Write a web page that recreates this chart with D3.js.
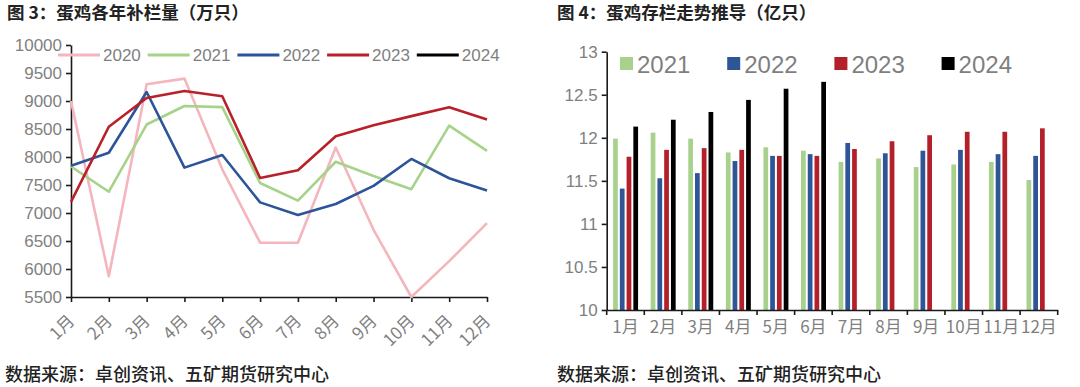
<!DOCTYPE html>
<html><head><meta charset="utf-8">
<script src="https://cdn.jsdelivr.net/npm/d3@7/dist/d3.min.js"></script>
<style>
body{margin:0;background:#fff;}
svg{display:block;}
.cjk{font-family:"Noto Sans CJK SC",sans-serif;}
.num{font-family:"Liberation Sans","DejaVu Sans",sans-serif;}
</style></head>
<body>
<svg id="c" width="1080" height="387"></svg>
<script>
const months = ["1月","2月","3月","4月","5月","6月","7月","8月","9月","10月","11月","12月"];
// Left chart: 补栏量 (万只)
const lineYears = ["2020","2021","2022","2023","2024"];
const s2020 = [9000,5870,9300,9400,7780,6470,6470,8170,6700,5500,6140,6820];
const s2021 = [7830,7380,8580,8910,8890,7535,7220,7915,7660,7425,8560,8110];
const s2022 = [7845,8075,9160,7810,8035,7190,6965,7160,7485,7965,7620,7400];
const s2023 = [7200,8540,9055,9180,9085,7625,7765,8370,8565,8730,8890,8670];
const s2024 = [];
const lineTicks = [5500,6000,6500,7000,7500,8000,8500,9000,9500,10000];
// Right chart: 存栏 (亿只)
const barYears = ["2021","2022","2023","2024"];
const b2021 = [11.99,12.06,11.99,11.83,11.89,11.85,11.72,11.76,11.66,11.69,11.72,11.51];
const b2022 = [11.41,11.53,11.59,11.73,11.79,11.81,11.94,11.82,11.85,11.86,11.81,11.79];
const b2023 = [11.78,11.86,11.88,11.86,11.79,11.79,11.87,11.96,12.03,12.07,12.07,12.11];
const b2024 = [12.13,12.21,12.30,12.44,12.57,12.65];
const barTicks = [10,10.5,11,11.5,12,12.5,13];

const lineColors = {"2020":"#F4B6BC","2021":"#A5D38A","2022":"#2D539A","2023":"#B8202A","2024":"#000000"};
const barColors = {"2021":"#A9D18E","2022":"#2F5597","2023":"#B4202A","2024":"#000000"};
const gray = "#7f7f7f";

const svg = d3.select("#c");

// Titles & footers
svg.append("text").attr("class","cjk").attr("x",7).attr("y",19).attr("font-size",17.5).attr("font-weight","bold").attr("fill","#222").text("图 3：蛋鸡各年补栏量（万只）");
svg.append("text").attr("class","cjk").attr("x",557).attr("y",19).attr("font-size",17.5).attr("font-weight","bold").attr("fill","#222").text("图 4：蛋鸡存栏走势推导（亿只）");
svg.append("text").attr("class","cjk").attr("x",5).attr("y",381).attr("font-size",18).attr("font-weight",500).attr("fill","#222").text("数据来源：卓创资讯、五矿期货研究中心");
svg.append("text").attr("class","cjk").attr("x",557).attr("y",381).attr("font-size",18).attr("font-weight",500).attr("fill","#222").text("数据来源：卓创资讯、五矿期货研究中心");

// ---------- Left chart ----------
const xL = d3.scalePoint().domain(months).range([71,487]);
const yL = d3.scaleLinear().domain([5500,10000]).range([297,45]);

const gL = svg.append("g");
const yAxL = gL.append("g").attr("transform","translate(71,0)")
  .call(d3.axisLeft(yL).tickValues(lineTicks).tickSize(5).tickSizeOuter(0).tickFormat(d3.format("d")));
const xAxL = gL.append("g").attr("transform","translate(0,297)")
  .call(d3.axisBottom(xL).tickSize(5).tickSizeOuter(0));
[yAxL,xAxL].forEach(a=>{
  a.selectAll("path,line").attr("stroke","#1a1a1a").attr("stroke-width",1.6);
  a.selectAll("text").attr("class","num").attr("fill",gray).attr("font-size",17);
});
yAxL.selectAll("text").attr("x",-9);
xAxL.selectAll("text").attr("class","cjk").attr("font-size",17)
  .attr("text-anchor","end").attr("dy",0).attr("y",0)
  .attr("transform","translate(4,25) rotate(-45)");

const lineData = {"2020":s2020,"2021":s2021,"2022":s2022,"2023":s2023,"2024":s2024};
const line = d3.line().x((d,i)=>xL(months[i])).y(d=>yL(d));
lineYears.forEach(yr=>{
  const v = lineData[yr];
  if(!v.length) return;
  gL.append("path").attr("d",line(v)).attr("fill","none")
    .attr("stroke",lineColors[yr]).attr("stroke-width",2.6).attr("stroke-linejoin","round");
});
// legend left
lineYears.forEach((yr,i)=>{
  const x0 = 58 + i*89.7;
  gL.append("line").attr("x1",x0).attr("x2",x0+42).attr("y1",55).attr("y2",55)
    .attr("stroke",lineColors[yr]).attr("stroke-width",2.8);
  gL.append("text").attr("class","num").attr("x",x0+45).attr("y",61).attr("font-size",17).attr("fill",gray).text(yr);
});

// ---------- Right chart ----------
const x0 = d3.scaleBand().domain(months).range([606.7,1057.7]).padding(0);
const bw = x0.bandwidth();
const x1 = d3.scaleBand().domain(barYears).range([bw*0.17,bw*0.835]).paddingInner(0.3);
const yR = d3.scaleLinear().domain([10,13]).range([310,51.7]);

const gR = svg.append("g");
const barData = {"2021":b2021,"2022":b2022,"2023":b2023,"2024":b2024};
barYears.forEach(yr=>{
  gR.selectAll(null).data(barData[yr]).enter().append("rect")
    .attr("x",(d,i)=>x0(months[i])+x1(yr))
    .attr("width",x1.bandwidth())
    .attr("y",d=>yR(d))
    .attr("height",d=>yR(10)-yR(d))
    .attr("fill",barColors[yr]);
});
const yAxR = gR.append("g").attr("transform","translate(606.7,0)")
  .call(d3.axisLeft(yR).tickValues(barTicks).tickSize(5).tickSizeOuter(0).tickFormat(d=>String(d)));
yAxR.selectAll("text").attr("x",-9);
const xAxR = gR.append("g").attr("transform","translate(0,310)")
  .call(d3.axisBottom(x0).tickSize(0).tickSizeOuter(0));
xAxR.selectAll("text").attr("y",23).attr("dy",0);
// boundary ticks
gR.append("g").selectAll("line").data(months.map(m=>x0(m)).concat([x0.range()[1]])).enter().append("line")
  .attr("x1",d=>d).attr("x2",d=>d).attr("y1",310).attr("y2",315).attr("stroke","#1a1a1a").attr("stroke-width",1.6);
[yAxR,xAxR].forEach(a=>{
  a.selectAll("path,line").attr("stroke","#1a1a1a").attr("stroke-width",1.6);
  a.selectAll("text").attr("class","num").attr("fill",gray).attr("font-size",17);
});
xAxR.selectAll("text").attr("class","cjk").attr("font-size",17);
// legend right
barYears.forEach((yr,i)=>{
  const lx = 620 + i*107.2;
  gR.append("rect").attr("x",lx).attr("y",57).attr("width",13).attr("height",13).attr("fill",barColors[yr]);
  gR.append("text").attr("class","num").attr("x",lx+17).attr("y",72.5).attr("font-size",24).attr("fill",gray).text(yr);
});
</script>
</body></html>
